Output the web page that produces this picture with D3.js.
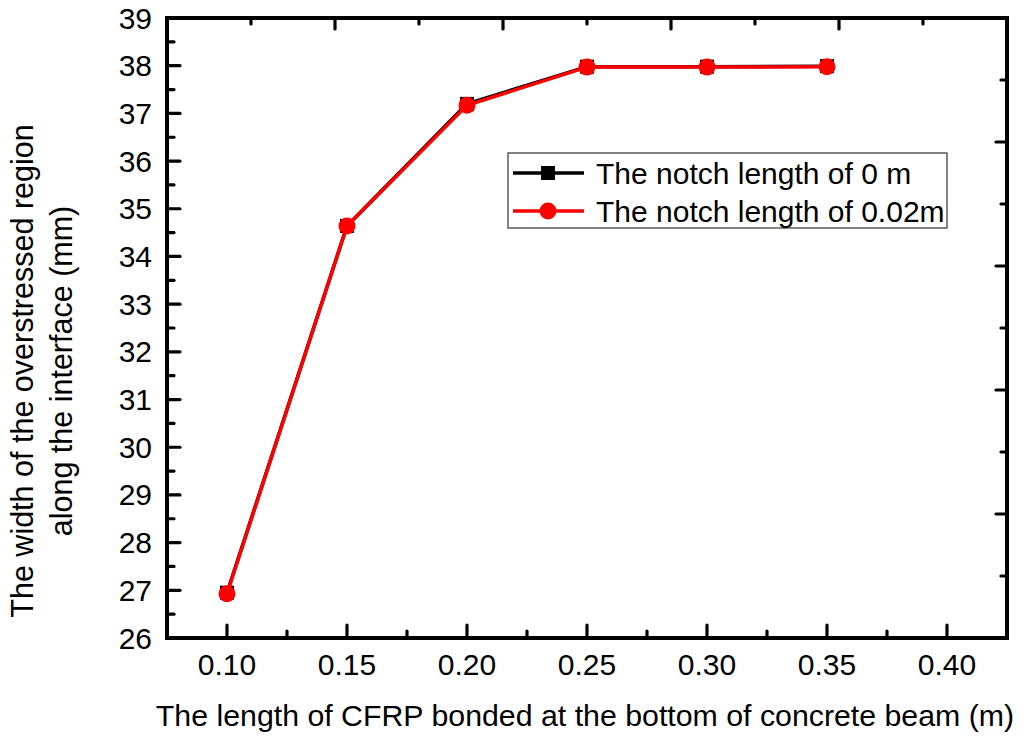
<!DOCTYPE html>
<html>
<head>
<meta charset="utf-8">
<script src="https://cdn.jsdelivr.net/npm/d3@7"></script>
<style>
  html, body { margin: 0; padding: 0; background: #fff; }
  svg { display: block; font-family: "Liberation Sans", Arial, sans-serif; }
</style>
</head>
<body>
<script>
// ---- data ----
const cfrpLength = [0.10, 0.15, 0.20, 0.25, 0.30, 0.35];
const notch0 = [26.95, 34.64, 37.20, 37.98, 37.98, 37.99];
const notch002 = [26.93, 34.64, 37.17, 37.97, 37.97, 37.98];
const seriesNames = ["The notch length of 0 m", "The notch length of 0.02m"];
const xTicks = [0.10, 0.15, 0.20, 0.25, 0.30, 0.35, 0.40];
const yTicks = [26, 27, 28, 29, 30, 31, 32, 33, 34, 35, 36, 37, 38, 39];
const xLabel = "The length of CFRP bonded at the bottom of concrete beam (m)";
const yLabelLines = ["The width of the overstressed region", "along the interface (mm)"];

const W = 1024, H = 739;
const L = 167, R = 1007, T = 18, B = 638;

const svg = d3.select("body").append("svg").attr("width", W).attr("height", H);

const x = d3.scaleLinear().domain([0.075, 0.425]).range([L, R]);
const y = d3.scaleLinear().domain([26, 39]).range([B, T]);
const xu = d3.scaleLinear().domain([0, 1]).range([L, R]);
const yu = d3.scaleLinear().domain([0, 1]).range([B, T]);

const xMinor = d3.range(0.075, 0.4251, 0.025).map(v => +v.toFixed(3)).filter(v => !xTicks.some(t => Math.abs(t - v) < 1e-6));
const yMinor = d3.range(26.5, 39, 1);

const TK = 3.2;
const g = svg.append("g").attr("stroke", "#000").attr("stroke-width", TK).attr("stroke-linecap", "round");
xTicks.forEach(v => g.append("line").attr("x1", x(v)).attr("x2", x(v)).attr("y1", B).attr("y2", B - 13));
xMinor.forEach(v => g.append("line").attr("x1", x(v)).attr("x2", x(v)).attr("y1", B).attr("y2", B - 7));
yTicks.forEach(v => g.append("line").attr("y1", y(v)).attr("y2", y(v)).attr("x1", L).attr("x2", L + 13));
yMinor.forEach(v => g.append("line").attr("y1", y(v)).attr("y2", y(v)).attr("x1", L).attr("x2", L + 7));
d3.range(0.1, 0.95, 0.1).forEach((v, i) => {
  const len = (i % 2 === 1) ? 11 : 6;
  g.append("line").attr("x1", xu(v)).attr("x2", xu(v)).attr("y1", T).attr("y2", T + len);
  g.append("line").attr("y1", yu(v)).attr("y2", yu(v)).attr("x1", R).attr("x2", R - len);
});

svg.append("rect").attr("x", L).attr("y", T).attr("width", R - L).attr("height", B - T)
  .attr("fill", "none").attr("stroke", "#000").attr("stroke-width", 4);

svg.append("g").selectAll("text").data(xTicks).join("text")
  .attr("x", d => x(d)).attr("y", 675).attr("text-anchor", "middle")
  .attr("font-size", 30).text(d => d.toFixed(2));
svg.append("g").selectAll("text").data(yTicks).join("text")
  .attr("x", 152).attr("y", d => y(d) + 10.5).attr("text-anchor", "end")
  .attr("font-size", 30).text(d => d);

svg.append("text").attr("x", (157 + 1013) / 2).attr("y", 726).attr("text-anchor", "middle")
  .attr("font-size", 30.3).text(xLabel);
const yl = svg.append("text").attr("transform", "translate(33,371) rotate(-90)")
  .attr("text-anchor", "middle").attr("font-size", 30.5);
yl.append("tspan").attr("x", 0).attr("y", 0).text(yLabelLines[0]);
yl.append("tspan").attr("x", 0).attr("y", 39).text(yLabelLines[1]);

const line = d3.line().x(d => x(d[0])).y(d => y(d[1]));
const d0 = cfrpLength.map((v, i) => [v, notch0[i]]);
const d1 = cfrpLength.map((v, i) => [v, notch002[i]]);

svg.append("path").datum(d0).attr("d", line).attr("fill", "none").attr("stroke", "#000").attr("stroke-width", 3.5);
svg.append("g").selectAll("rect").data(d0).join("rect")
  .attr("x", d => x(d[0]) - 7).attr("y", d => y(d[1]) - 7).attr("width", 14).attr("height", 14).attr("fill", "#000");

svg.append("path").datum(d1).attr("d", line).attr("fill", "none").attr("stroke", "#ff0000").attr("stroke-width", 3.5);
svg.append("g").selectAll("circle").data(d1).join("circle")
  .attr("cx", d => x(d[0])).attr("cy", d => y(d[1])).attr("r", 8.5).attr("fill", "#ff0000");

const lg = svg.append("g");
lg.append("rect").attr("x", 508).attr("y", 153).attr("width", 439).attr("height", 75)
  .attr("fill", "#fff").attr("stroke", "#333").attr("stroke-width", 1.2);
const rows = [
  { name: seriesNames[0], color: "#000", shape: "square", y: 173 },
  { name: seriesNames[1], color: "#ff0000", shape: "circle", y: 211 }
];
rows.forEach(r => {
  lg.append("line").attr("x1", 513).attr("x2", 584).attr("y1", r.y).attr("y2", r.y)
    .attr("stroke", r.color).attr("stroke-width", 3.5);
  if (r.shape === "square") {
    lg.append("rect").attr("x", 548 - 7).attr("y", r.y - 7).attr("width", 14).attr("height", 14).attr("fill", r.color);
  } else {
    lg.append("circle").attr("cx", 548).attr("cy", r.y).attr("r", 8.5).attr("fill", r.color);
  }
  lg.append("text").attr("x", 596).attr("y", r.y + 11).attr("font-size", 30).text(r.name);
});
</script>
</body>
</html>
